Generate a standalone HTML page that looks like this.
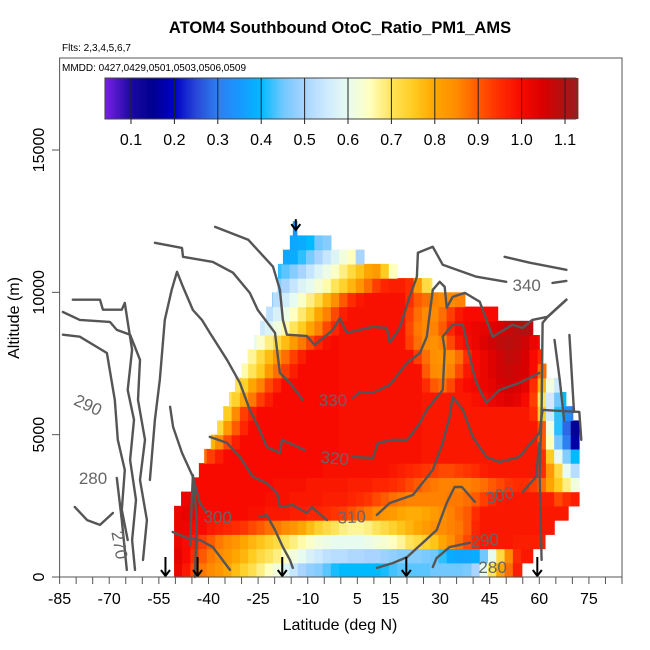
<!DOCTYPE html>
<html><head><meta charset="utf-8"><style>
html,body{margin:0;padding:0;background:#fff;}
svg{display:block;font-family:"Liberation Sans",sans-serif;}
</style></head><body>
<svg id="chart" width="650" height="650" viewBox="0 0 650 650" xmlns="http://www.w3.org/2000/svg">
<rect x="0" y="0" width="650" height="650" fill="#fff"/>
<text x="340" y="33" text-anchor="middle" font-size="16.5" font-weight="bold">ATOM4 Southbound OtoC_Ratio_PM1_AMS</text>
<text x="62" y="51" font-size="10">Flts: 2,3,4,5,6,7</text>
<g id="heat"></g>
<g id="contours"></g>
<g id="clabels"></g>
<g id="arrows"></g>
<rect x="59.6" y="58" width="562.4" height="519" fill="none" stroke="#555" stroke-width="1"/>
<text x="62" y="71" font-size="10">MMDD: 0427,0429,0501,0503,0506,0509</text>
<g id="cbar"></g>
<g id="xaxis"></g>
<g id="yaxis"></g>
<text x="340" y="630" text-anchor="middle" font-size="16">Latitude (deg N)</text>
<text transform="translate(19,318) rotate(-90)" text-anchor="middle" font-size="16">Altitude (m)</text>
</svg>
<script>
const NS = "http://www.w3.org/2000/svg";
// ---- data ----
const xTicks = [-85,-70,-55,-40,-25,-10,5,15,30,45,60,75];
const yTicks = [0,5000,10000,15000];
const cbarTicks = [0.1,0.2,0.3,0.4,0.5,0.6,0.7,0.8,0.9,1.0,1.1];
const rowStart = [-50.4,-50.4,-50.4,-50.4,-50.4,-48.3,-44.7,-42.9,-41.3,-39.3,-37.4,-35.6,-33.8,-32,-30,-28.3,-26.3,-24.4,-22.6,-20.8,-19.1,-19,-17.5,-15.4,-14.5];
const rowEnd = [54.7,58,61.7,65,68.7,72,72,72,72,72,72,70.1,68,66,62,60.7,60,58,47.4,37.5,27.5,17.2,7,-3,-13.3];
const rowVals = [
[1.02,0.98,0.92,0.87,0.85,0.83,0.8,0.77,0.74,0.71,0.68,0.65,0.62,0.58,0.54,0.5,0.48,0.47,0.44,0.41,0.4,0.4,0.4,0.4,0.4,0.41,0.43,0.44,0.44,0.44,0.44,0.45,0.45,0.45,0.45,0.46,0.5,0.6,0.7,0.8,0.88,0.97,0.97],
[1.03,1.0,0.95,0.9,0.87,0.85,0.83,0.8,0.78,0.75,0.72,0.7,0.68,0.65,0.62,0.6,0.57,0.55,0.53,0.52,0.52,0.51,0.51,0.5,0.5,0.49,0.48,0.47,0.47,0.47,0.46,0.45,0.42,0.38,0.37,0.37,0.38,0.45,0.6,0.72,0.85,0.95,0.98,0.98],
[1.02,1.0,0.97,0.93,0.9,0.87,0.85,0.83,0.8,0.78,0.76,0.74,0.72,0.7,0.68,0.66,0.64,0.62,0.61,0.6,0.6,0.6,0.6,0.61,0.62,0.63,0.65,0.67,0.7,0.72,0.74,0.76,0.8,0.84,0.88,0.92,0.96,0.98,0.98,0.98,0.98,0.97,0.97,0.97,0.97],
[1.02,1.02,1.0,1.0,0.98,0.97,0.96,0.95,0.94,0.92,0.9,0.88,0.87,0.85,0.83,0.8,0.77,0.74,0.72,0.7,0.68,0.67,0.67,0.68,0.7,0.72,0.74,0.76,0.78,0.8,0.82,0.84,0.85,0.86,0.87,0.9,0.96,0.98,0.98,0.98,0.98,0.98,0.98,0.98,0.98,0.98],
[1.02,1.03,1.02,1.0,1.0,1.0,1.0,1.0,1.0,0.99,0.99,0.98,0.98,0.98,0.97,0.97,0.96,0.96,0.95,0.94,0.93,0.91,0.89,0.87,0.85,0.83,0.82,0.8,0.79,0.79,0.8,0.82,0.84,0.86,0.88,0.9,0.95,0.98,0.98,0.98,0.98,0.98,0.98,0.98,0.98,0.98,0.98,0.98,0.98],
[1.0,1.02,1.02,1.0,1.0,1.0,1.0,1.0,1.0,1.0,1.0,0.99,0.99,0.99,0.98,0.98,0.98,0.98,0.97,0.97,0.97,0.96,0.95,0.94,0.92,0.9,0.88,0.87,0.86,0.86,0.86,0.86,0.86,0.87,0.87,0.88,0.9,0.93,0.96,0.98,0.98,0.98,0.98,0.98,0.97,0.97,0.92,0.95,0.97],
[1.0,1.0,1.0,1.0,1.0,1.0,1.0,1.0,1.0,1.0,0.99,0.99,0.99,0.99,0.98,0.98,0.98,0.98,0.98,0.97,0.97,0.97,0.96,0.96,0.95,0.94,0.92,0.9,0.88,0.87,0.86,0.86,0.86,0.86,0.87,0.88,0.9,0.92,0.94,0.95,0.95,0.93,0.88,0.8,0.75,0.68,0.62],
[1.0,1.0,1.0,1.0,1.0,1.0,1.0,1.0,1.0,1.0,1.0,1.0,1.0,1.0,1.0,0.99,0.99,0.99,0.99,0.99,0.99,0.99,0.99,0.98,0.97,0.96,0.95,0.94,0.93,0.92,0.92,0.93,0.94,0.95,0.97,0.98,0.98,0.98,0.98,0.98,0.98,0.95,0.82,0.72,0.6,0.52],
[0.88,0.93,0.97,1.0,1.0,1.0,1.0,1.0,1.0,1.0,1.0,1.0,1.0,1.0,1.0,1.0,1.0,0.99,0.99,0.99,0.99,0.99,0.99,0.99,0.99,0.99,0.99,0.98,0.98,0.98,0.98,0.98,0.98,0.98,0.98,0.98,0.98,0.98,0.98,0.98,0.98,0.95,0.75,0.6,0.47,0.4],
[0.78,0.85,0.92,0.97,1.0,1.0,1.0,1.0,1.0,1.0,1.0,1.0,1.0,1.0,1.0,1.0,0.99,0.99,0.99,0.99,0.99,0.99,0.99,0.99,0.99,0.99,0.98,0.98,0.98,0.98,0.98,0.98,0.98,0.98,0.98,0.98,0.98,0.98,0.98,0.98,0.9,0.65,0.45,0.3,0.17],
[0.72,0.82,0.9,0.96,1.0,1.0,1.0,1.0,1.0,1.0,1.0,1.0,1.0,1.0,1.0,0.99,0.99,0.99,0.99,0.99,0.99,0.99,0.99,0.99,0.99,0.98,0.98,0.98,0.98,0.98,0.98,0.98,0.98,0.98,0.98,0.98,0.98,0.98,0.98,0.9,0.62,0.42,0.28,0.14],
[0.68,0.75,0.85,0.93,0.97,1.0,1.0,1.0,1.0,1.0,1.0,1.0,1.0,1.0,1.0,0.99,0.99,0.99,0.99,0.99,0.99,0.99,0.99,0.99,0.99,0.98,0.98,0.98,0.98,0.98,0.98,0.98,0.98,0.98,0.98,0.98,0.98,0.98,0.95,0.75,0.55,0.42,0.33,0.3],
[0.7,0.74,0.8,0.87,0.93,0.97,1.0,1.0,1.0,1.0,1.0,1.0,1.0,1.0,0.99,0.99,0.99,0.99,0.99,0.99,0.99,0.99,0.99,0.99,0.98,0.98,0.98,0.98,0.98,0.98,0.99,1.0,1.02,1.03,1.04,1.03,1.0,0.93,0.7,0.55,0.45,0.4],
[0.7,0.74,0.8,0.86,0.92,0.96,1.0,1.0,1.0,1.0,1.0,1.0,1.0,0.99,0.99,0.99,0.99,0.99,0.99,0.99,0.99,0.99,0.99,0.95,0.9,0.88,0.92,0.98,1.0,1.01,1.02,1.03,1.05,1.06,1.05,1.03,0.95,0.78,0.62,0.55],
[0.66,0.7,0.75,0.82,0.88,0.93,0.97,1.0,1.0,1.0,1.0,1.0,0.99,0.99,0.99,0.99,0.99,0.99,0.99,0.99,0.99,0.99,0.9,0.85,0.84,0.86,0.92,0.98,1.0,1.02,1.04,1.06,1.07,1.06,1.05,1.0,0.88],
[0.63,0.67,0.72,0.77,0.83,0.88,0.93,0.97,1.0,1.0,1.0,1.0,0.99,0.99,0.99,0.99,0.99,0.99,0.99,0.99,0.99,0.93,0.88,0.84,0.83,0.84,0.88,0.95,1.0,1.02,1.04,1.06,1.08,1.07,1.05,1.0,0.95],
[0.6,0.64,0.68,0.72,0.77,0.82,0.87,0.92,0.96,0.99,1.0,0.99,0.99,0.99,0.99,0.99,0.99,0.99,0.99,0.93,0.88,0.85,0.84,0.86,0.92,0.98,1.0,1.02,1.04,1.06,1.08,1.09,1.08,1.06,1.02,1.0],
[0.55,0.58,0.62,0.66,0.7,0.75,0.8,0.86,0.92,0.96,0.99,0.99,0.99,0.99,0.99,0.99,0.99,0.99,0.92,0.87,0.85,0.86,0.9,0.96,1.0,1.01,1.02,1.03,1.04,1.05,1.07,1.09,1.1,1.08],
[0.53,0.57,0.61,0.65,0.69,0.74,0.8,0.86,0.92,0.97,0.99,0.99,0.99,0.99,0.99,0.99,0.99,0.93,0.88,0.85,0.85,0.88,0.93,0.98,1.0,1.0,1.0,1.0,1.0],
[0.48,0.52,0.56,0.6,0.64,0.68,0.72,0.78,0.84,0.9,0.95,0.98,0.99,0.99,0.99,0.99,0.99,0.95,0.9,0.88,0.86,0.85,0.85,0.86,0.86],
[0.47,0.5,0.54,0.58,0.6,0.63,0.66,0.7,0.74,0.78,0.83,0.88,0.93,0.96,0.97,0.97,0.95,0.82,0.72,0.7],
[0.42,0.44,0.47,0.5,0.54,0.58,0.61,0.64,0.68,0.72,0.76,0.8,0.82,0.75,0.65],
[0.37,0.38,0.42,0.46,0.5,0.54,0.58,0.62,0.65,0.5],
[0.37,0.38,0.4,0.45,0.47,0.4],
[0.35]
];
// contours: lat arrays and altitude (m) arrays
const contourLat = [
[-38,-28,-20.5,-18.4,-17.5,-16.3,-10.3,-7.9,-2.4,-0.3,1.8,9.7,13.9,14.8,17.8,20.8,23,23.3,27.8,30.8,41,50],
[64,68.2],
[49.5,57.1,68.2],
[-56.2,-48,-47.7,-38.7,-32.6,-27.5,-25.1,-19.9,-19,-18.4,-15.4,-11.5],
[3.6,5.7,9.7,14.8,20,23.9,26,26.9,27.8,29.9,31.4,32,33.8,37.5,42,45.9,51.9,54.9,57.9,62.5,68.2],
[-57.7,-56.2,-54.7,-53.2,-51.1,-49.5,-47.7,-44.7,-42,-39.6,-34.4,-30.5,-27.5,-24.5,-22.4,-18.4,-17.8,-10.9],
[3.6,9.7,11.2,15.7,20.2,23.9,26,30.8,31.4,30.8,33.8,36.9,39.9,41,44,47.9,54,60],
[-39.6,-34.4,-30.5,-26.6,-22.4,-19.3,-18.4,-14.5,-10.3,-8.8,-4.2],
[10.9,14.8,21.8,27.8,30.8,32.9,33.8,36.9,39.9,44,47.9,54,60,61],
[-51.6,-50.7,-48,-44.7,-42.6,-40.5],
[-24.5,-22.4,-19.9,-17.5,-15.4,-14.5],
[40.5,36.6,34.4,32,29,24.8,20,15.7,10.9],
[55,59,60],
[27.8,29,32.9,39],
[60.7,60.1,60.7,61,62.5,68.2],
[61,72.1,72.7],
[-81,-72.8,-71.9,-66.2,-65.3,-64.4,-63.1,-64.4,-62.5,-63.7,-61.9,-63.1,-62.2],
[-84,-78.9,-69.8,-67.7,-63.7,-60.7,-61.3,-59.2,-60.7,-58.6,-59.8],
[-84,-78.9,-70.7,-68.3,-67.4,-65.3,-66.2,-64.4],
[-80.4,-76.7,-72.8,-68.9],
[-67.7,-66.2,-64.7],
[-50.8,-46.5,-42.6,-38.7,-33.5],
[-45.6,-44.7,-43.5,-44.1],
[64.6,66.2,67.5],
[69.1,70.5]
];
const contourAlt = [
[12300,11850,10900,10090,9030,8510,8470,8150,8680,9100,8580,8790,8750,8230,8750,9840,10550,11390,11600,10970,10550,10370],
[10330,10400],
[11250,11040,10790],
[11740,11560,11250,11070,10690,9980,9380,8580,7730,7170,6820,6220],
[6290,6500,6470,6750,7520,7870,8440,9280,10090,10370,10190,9460,9840,9980,9670,8440,8860,8750,9030,9140,9740],
[3410,5520,6920,9030,10090,10720,10190,9380,9030,8580,7630,6820,5870,5170,4570,4360,4820,4460],
[4220,4180,4710,4820,4820,5410,5870,6570,7980,8440,8860,8860,7280,6820,6120,6570,6820,7170],
[4920,4710,4220,3520,3300,2950,2460,2530,2250,2460,2000],
[2180,2600,2880,3760,4710,5620,6330,5870,4920,4220,4040,4220,5060,5870],
[5980,5270,4360,3520,2600,2250],
[2110,2180,1650,1050,600,320],
[2640,3160,3160,2600,1650,1200,700,490,320],
[2990,3520,4710],
[350,670,1050,1200],
[600,3520,5870,8930,9140,9740],
[5870,5800,4820],
[9740,9740,9390,9390,9630,8960,7980,6570,5520,4110,2710,1300,250],
[9310,9030,8960,8680,8510,7630,6220,4820,3410,2000,600],
[8510,8440,7870,6220,4820,3760,2360,1300],
[2460,2000,1830,2250],
[3480,2000,250],
[1580,1370,1300,1050,250],
[1120,3580,2000,0],
[8330,6920,5500],
[8500,5800]
];
const labelText = ["340","330","320","310","300","300","290","280","290","280","270"];
const labelLat = [56.2,-2.4,-1.8,3.3,-37.2,48,43.5,45.9,-76.4,-74.9,-66.8];
const labelAlt = [10260,6220,4180,2110,2110,2880,1300,350,6050,3480,1120];
const labelRot = [0,0,5,-3,3,-15,-5,0,25,0,80];
const arrowLat = [-53,-43.3,-17.7,19.8,59.4,-13.6];
const arrowAlt = [0,0,0,0,0,12150];

// ---- scales ----
const X0=59.6, PXD=562.4/170;
function X(lat){return X0+(lat+85)*PXD;}
function Y(alt){return 577-alt*(427/15000);}
const G0=-50.5, CW=2.5, RH=500;
const stops=[[0.04,"#7a1fe8"],[0.1,"#1a0aa0"],[0.15,"#000090"],[0.2,"#0000c8"],[0.25,"#2848d8"],[0.3,"#2e7ff0"],[0.35,"#1898ff"],[0.4,"#00baff"],[0.45,"#70c8ff"],[0.5,"#a8d4ff"],[0.55,"#cdeaff"],[0.6,"#e8fbf0"],[0.65,"#ffffc0"],[0.7,"#ffe45a"],[0.75,"#ffcc20"],[0.8,"#ffa500"],[0.85,"#ff8c00"],[0.9,"#ff5a00"],[0.95,"#ff2c00"],[1.0,"#f80a00"],[1.05,"#d80000"],[1.1,"#b01212"],[1.125,"#a01a1a"]];
function hex(c){return [parseInt(c.substr(1,2),16),parseInt(c.substr(3,2),16),parseInt(c.substr(5,2),16)];}
function color(v){
  if(v<=stops[0][0]) return stops[0][1];
  for(let i=1;i<stops.length;i++){
    if(v<=stops[i][0]){
      const a=hex(stops[i-1][1]),b=hex(stops[i][1]);
      const t=(v-stops[i-1][0])/(stops[i][0]-stops[i-1][0]);
      return "rgb("+a.map((x,k)=>Math.round(x+(b[k]-x)*t)).join(",")+")";
    }
  }
  return stops[stops.length-1][1];
}
function mk(tag,attrs,parent){const e=document.createElementNS(NS,tag);for(const k in attrs)e.setAttribute(k,attrs[k]);parent.appendChild(e);return e;}

// ---- heatmap ----
const heat=document.getElementById("heat");
rowVals.forEach((vals,i)=>{
  const sc=Math.floor((rowStart[i]-G0)/CW);
  const y1=Y(i*RH), y2=Y((i+1)*RH);
  vals.forEach((v,k)=>{
    const j=sc+k;
    const l=Math.max(G0+CW*j,rowStart[i]), r=Math.min(G0+CW*(j+1),rowEnd[i]);
    if(r<=l) return;
    const re=mk("rect",{x:X(l).toFixed(2),y:y2.toFixed(2),width:(X(r)-X(l)+0.6).toFixed(2),height:(y1-y2+0.6).toFixed(2),fill:color(v)},heat);
    
    
  });
});

// ---- contours ----
const cg=document.getElementById("contours");
contourLat.forEach((lats,i)=>{
  const pts=lats.map((la,k)=>X(la).toFixed(1)+","+Y(contourAlt[i][k]).toFixed(1)).join(" ");
  const p=mk("polyline",{points:pts,fill:"none",stroke:"#555","stroke-width":"2.4","stroke-linejoin":"round","stroke-linecap":"round"},cg);
  
  
});
const lg=document.getElementById("clabels");
labelText.forEach((t,i)=>{
  const x=X(labelLat[i]), y=Y(labelAlt[i]);
  const e=mk("text",{x:x.toFixed(1),y:(y+6).toFixed(1),"text-anchor":"middle","font-size":"17",fill:"#666",transform:"rotate("+labelRot[i]+" "+x.toFixed(1)+" "+y.toFixed(1)+")"},lg);
  e.textContent=t;
  
  
});

// ---- arrows ----
const ag=document.getElementById("arrows");
arrowLat.forEach((la,i)=>{
  const x=X(la), y=Y(arrowAlt[i]);
  const len = arrowAlt[i]>0 ? 12 : 20;
  const g=mk("g",{},ag);
  
  
  mk("line",{x1:x,y1:y-len,x2:x,y2:y-1,stroke:"#000","stroke-width":"2"},g);
  mk("polyline",{points:(x-4.5)+","+(y-7)+" "+x+","+(y-1)+" "+(x+4.5)+","+(y-7),fill:"none",stroke:"#000","stroke-width":"2"},g);
});

// ---- colorbar ----
const cb=document.getElementById("cbar");
function CX(v){return 131+(v-0.1)*434;}
for(let v=0.04; v<1.125; v+=0.005){
  const r=mk("rect",{x:CX(v).toFixed(2),y:78,width:(0.005*434+0.4).toFixed(2),height:41,fill:color(v+0.0025)},cb);
  
  
}
mk("rect",{x:CX(0.04),y:78,width:CX(1.125)-CX(0.04),height:41,fill:"none",stroke:"#444","stroke-width":"1"},cb);
cbarTicks.forEach(v=>{
  const x=CX(v);
  mk("line",{x1:x,y1:78,x2:x,y2:124,stroke:"#222","stroke-width":"1"},cb);
  const t=mk("text",{x:x,y:145,"text-anchor":"middle","font-size":"16"},cb);
  t.textContent=v.toFixed(1);
  
  
});

// ---- axes ----
const xa=document.getElementById("xaxis");
for(let d=-85; d<=85; d+=5){
  mk("line",{x1:X(d),y1:577,x2:X(d),y2:584,stroke:"#555","stroke-width":"1"},xa);
}
xTicks.forEach(d=>{
  const t=mk("text",{x:X(d),y:604,"text-anchor":"middle","font-size":"16"},xa);
  t.textContent=String(d);
  
  
});
const ya=document.getElementById("yaxis");
yTicks.forEach(a=>{
  const y=Y(a);
  mk("line",{x1:52,y1:y,x2:59.6,y2:y,stroke:"#555","stroke-width":"1"},ya);
  const t=mk("text",{x:0,y:0,"text-anchor":"middle","font-size":"16",transform:"translate(44,"+y+") rotate(-90)"},ya);
  t.textContent=String(a);
  
  
});
</script>
</body></html>
